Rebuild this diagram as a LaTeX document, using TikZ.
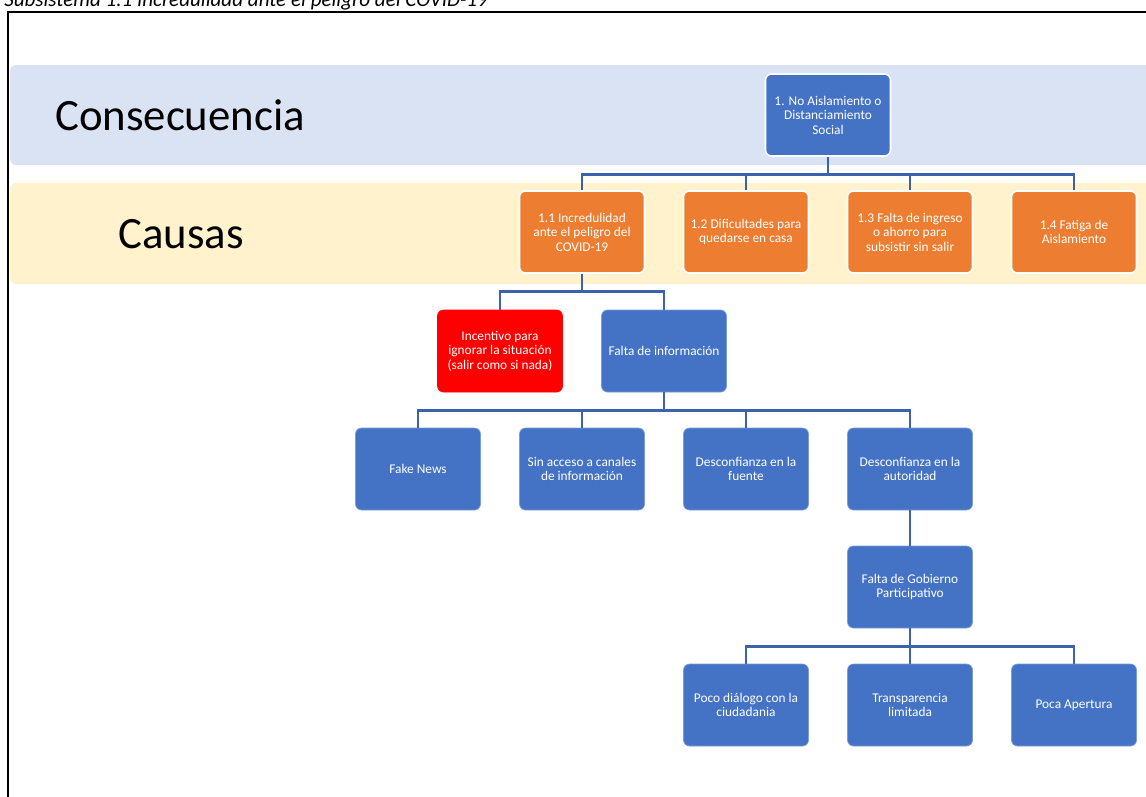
\documentclass[tikz,border=0pt]{standalone}
\usepackage{fontspec}
\setmainfont{Carlito}
\usetikzlibrary{positioning}

\definecolor{boxblue}{HTML}{4472C4}
\definecolor{boxorange}{HTML}{ED7D31}
\definecolor{boxred}{HTML}{FF0000}
\definecolor{bandblue}{HTML}{DAE3F3}
\definecolor{bandyellow}{HTML}{FFF2CC}
\definecolor{linkblue}{HTML}{3B63AD}

\newcommand{\boxtxt}{\fontsize{7.6}{8.2}\selectfont}

\begin{document}
\begin{tikzpicture}[x=0.02cm, y=-0.02cm,
    % Box styles: blue for consequence and sub causes, orange for causes, red for the incentive
    basebox/.style={rectangle, rounded corners=0.12cm, draw=white, line width=0.9pt, text=white, minimum width=2.5cm, minimum height=1.64cm, align=center, font=\boxtxt},
    conseq/.style={basebox, fill=boxblue},
    cause/.style={basebox, fill=boxorange},
    subcause/.style={basebox, fill=boxblue, draw=boxblue!70!white, line width=0.4pt},
    incent/.style={basebox, fill=boxred, draw=boxred, line width=0.4pt},
    % Band styles
    band/.style={rounded corners=0.12cm},
    bandlabel/.style={font=\fontsize{25.5}{30}\selectfont, anchor=west},
    % Connector style
    link/.style={draw=linkblue, line width=1.6pt}
]
\useasboundingbox (0,0) rectangle (1146,796);

% Caption (cut off at the top)
\node[anchor=base west, inner sep=0pt, font=\fontsize{12}{14}\selectfont\itshape] (caption) at (4,6) {Subsistema 1.1 Incredulidad ante el peligro del COVID-19};

% Frame
\draw[black, line width=1pt] (8,12) rectangle (1170,820);

% Bands
\fill[band, bandblue] (10,65) rectangle (1180,165);
\fill[band, bandyellow] (10,183) rectangle (1180,284);
\node[bandlabel] (lblconseq) at (49,115) {Consecuencia};
\node[bandlabel] (lblcause) at (112,234) {Causas};

% Consequence
\node[conseq] (top) at (828,115) {1. No Aislamiento o\\Distanciamiento\\Social};

% Causes
\node[cause] (c1) at (582,232) {1.1 Incredulidad\\ante el peligro del\\COVID-19};
\node[cause] (c2) at (746,232) {1.2 Dificultades para\\quedarse en casa};
\node[cause] (c3) at (910,232) {1.3 Falta de ingreso\\o ahorro para\\subsistir sin salir};
\node[cause] (c4) at (1074,232) {1.4 Fatiga de\\Aislamiento};

% Second level under 1.1
\node[incent] (ignore) at (500,351) {Incentivo para\\ignorar la situación\\(salir como si nada)};
\node[subcause] (info) at (664,351) {Falta de información};

% Third level under Falta de informacion
\node[subcause] (fake) at (418,469) {Fake News};
\node[subcause] (access) at (582,469) {Sin acceso a canales\\de información};
\node[subcause] (source) at (746,469) {Desconfianza en la\\fuente};
\node[subcause] (auth) at (910,469) {Desconfianza en la\\autoridad};

% Fourth level
\node[subcause] (gov) at (910,587) {Falta de Gobierno\\Participativo};

% Fifth level
\node[subcause] (dialog) at (746,705) {Poco diálogo con la\\ciudadania};
\node[subcause] (transp) at (910,705) {Transparencia\\limitada};
\node[subcause] (open) at (1074,705) {Poca Apertura};

% Connections
\foreach \n in {c1,c2,c3,c4}
    \draw[link] (top.south) -- ++(0,18) -| (\n.north);
\foreach \n in {ignore,info}
    \draw[link] (c1.south) -- ++(0,18) -| (\n.north);
\foreach \n in {fake,access,source,auth}
    \draw[link] (info.south) -- ++(0,18) -| (\n.north);
\draw[link] (auth.south) -- (gov.north);
\foreach \n in {dialog,transp,open}
    \draw[link] (gov.south) -- ++(0,18) -| (\n.north);

\end{tikzpicture}
\end{document}
